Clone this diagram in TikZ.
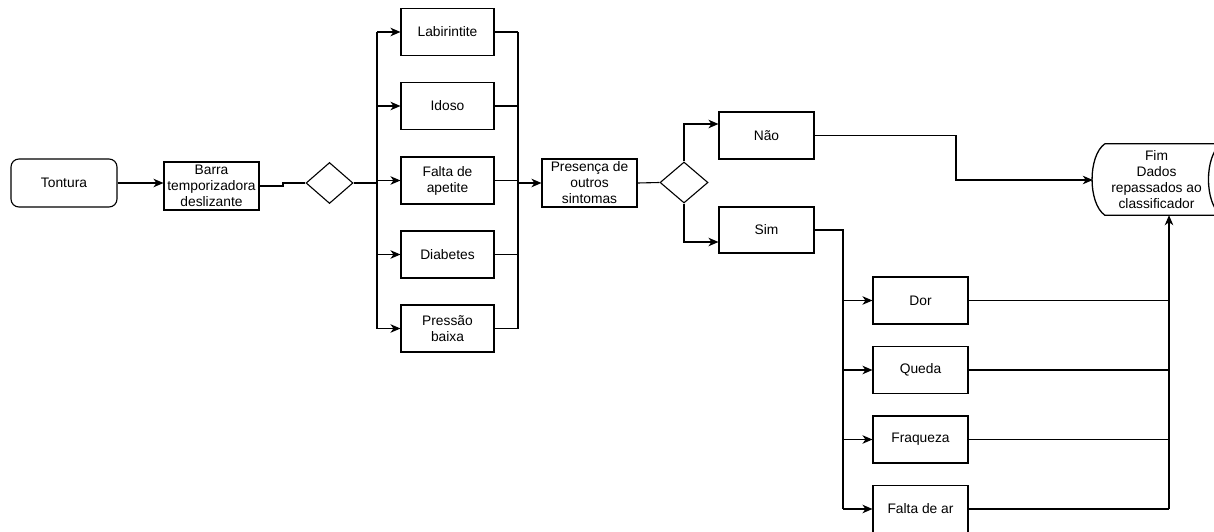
\documentclass[tikz,border=0pt]{standalone}
\usepackage{fontspec}
\setmainfont{Liberation Sans}
\usetikzlibrary{shapes.geometric,arrows.meta}
\begin{document}
\begin{tikzpicture}[x=1pt,y=-1pt,
  every node/.style={font=\fontsize{13.8}{16}\selectfont},
  box/.style={draw,rectangle,line width=1.1pt,minimum width=93pt,minimum height=47pt,inner sep=0pt,align=center},
  bigbox/.style={box,minimum width=95pt,minimum height=48pt},
  dec/.style={draw,diamond,line width=1.1pt,inner sep=0pt,minimum width=47pt,minimum height=41pt},
  conn/.style={line width=1.1pt},
  bus/.style={line width=1.6pt},
  arr/.style={line width=1.1pt,-{Stealth[length=10pt,width=8.5pt,inset=3pt]}}
]
\useasboundingbox (0,0) rectangle (1214,532);
% nodes
\node[draw,rounded corners=8pt,line width=1.1pt,minimum width=106pt,minimum height=48pt,inner sep=0pt] (tont) at (64,183) {Tontura};
\node[bigbox] (barra) at (211.5,186) {Barra\\temporizadora\\deslizante};
\node[dec] (d1) at (329.5,183) {};
\node[box] (lab) at (447.5,32) {Labirintite};
\node[box] (ido) at (447.5,106) {Idoso};
\node[box] (fal) at (447.5,180.5) {Falta de\\apetite};
\node[box] (dia) at (447.5,254.5) {Diabetes};
\node[box] (pre) at (447.5,328.5) {Pressão\\baixa};
\node[bigbox] (pres) at (589.5,183) {Presença de\\outros\\sintomas};
\node[dec,minimum width=48pt] (d2) at (684,182.5) {};
\node[bigbox,minimum height=47pt] (nao) at (766.5,135.5) {Não};
\node[bigbox,minimum height=46pt] (sim) at (766.5,230) {Sim};
\node[bigbox,minimum height=47pt] (dor) at (920.5,300.5) {Dor};
\node[bigbox,minimum height=47pt] (que) at (920.5,370) {Queda};
\node[bigbox,minimum height=47pt] (fra) at (920.5,439.5) {Fraqueza};
\node[bigbox,minimum height=47pt] (far) at (920.5,509) {Falta de ar};
% Fim (stored data shape)
\node[minimum width=129pt,minimum height=71pt,inner sep=0pt,align=center] (fim) at (1156.5,179.5) {Fim\\Dados\\repassados ao\\classificador};
\draw[line width=1.3pt] ([xshift=13pt]fim.north west) -- (fim.north east)
  .. controls ([xshift=-17pt,yshift=-12pt]fim.north east) and ([xshift=-17pt,yshift=12pt]fim.south east) .. (fim.south east)
  -- ([xshift=13pt]fim.south west)
  .. controls ([xshift=-4pt,yshift=12pt]fim.south west) and ([xshift=-4pt,yshift=-12pt]fim.north west) .. ([xshift=13pt]fim.north west);
% coordinates
\coordinate (b1) at (377,32);
\coordinate (b2) at (377,328.5);
\coordinate (r1) at (518,32);
\coordinate (r2) at (518,328.5);
\coordinate (s1) at (843,230);
\coordinate (s2) at (843,509);
\coordinate (f1) at (1169,509);
% connectors
\draw[arr] (tont.east) -- (barra.west |- tont.east);
\draw[conn] (barra.east) -- (283,186) -- (283,183) -- (d1.west);
\draw[conn] (d1.east) -- (377,183);
\draw[bus] (b1) -- (b2);
\draw[arr] (b1) -- (lab.west);
\draw[arr] (377,106) -- (ido.west);
\draw[arr] (377,180.5) -- (fal.west);
\draw[arr] (377,254.5) -- (dia.west);
\draw[arr] (b2) -- (pre.west);
\draw[bus] (r1) -- (r2);
\draw[conn] (lab.east) -- (r1);
\draw[conn] (ido.east) -- (518,106);
\draw[conn] (fal.east) -- (518,180.5);
\draw[conn] (dia.east) -- (518,254.5);
\draw[conn] (pre.east) -- (r2);
\draw[arr] (518,183) -- (pres.west);
\draw[conn] (pres.east) -- (d2.west);
\draw[arr] (d2.north) -- (684,124) -- (nao.west |- 0,124);
\draw[arr] (d2.south) -- (684,242) -- (sim.west |- 0,242);
\draw[arr] (nao.east) -- (956,135.5) -- (956,180) -- ([xshift=1pt]fim.west |- 0,180);
\draw[conn] (sim.east) -- (s1) -- (s2);
\draw[arr] (843,300.5) -- (dor.west);
\draw[arr] (843,370) -- (que.west);
\draw[arr] (843,439.5) -- (fra.west);
\draw[arr] (s2) -- (far.west);
\draw[conn] (dor.east) -- (1169,300.5);
\draw[conn] (que.east) -- (1169,370);
\draw[conn] (fra.east) -- (1169,439.5);
\draw[conn] (far.east) -- (f1);
\draw[arr] (f1) -- (fim.south -| f1);
\end{tikzpicture}
\end{document}
